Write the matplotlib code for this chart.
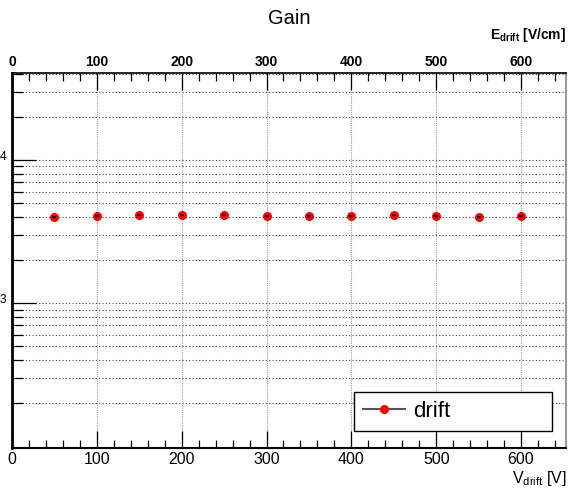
import matplotlib

matplotlib.use("Agg")
import matplotlib.pyplot as plt
from matplotlib.ticker import LogLocator, FixedLocator, MultipleLocator, NullFormatter
from matplotlib.transforms import ScaledTranslation

plt.rcParams["font.family"] = ["Liberation Sans", "DejaVu Sans"]
plt.rcParams["mathtext.fontset"] = "custom"
plt.rcParams["mathtext.rm"] = "Liberation Sans"
plt.rcParams["mathtext.bf"] = "Liberation Sans:bold"

# 데이터: 드리프트 전압 [V] vs 게인
v_drift = [50, 100, 150, 200, 250, 300, 350, 400, 450, 500, 550, 600]
gain = [3990, 4066, 4132, 4132, 4132, 4066, 4066, 4066, 4099, 4034, 3969, 4066]
x_range = (0, 653)
y_range = (97, 40500)
top_ticks = [0, 100, 200, 300, 400, 500, 600]
bottom_ticks = [0, 100, 200, 300, 400, 500, 600]
y_major = [1e3, 1e4]
y_major_labels = ["3", "4"]

fig = plt.figure(figsize=(5.68, 4.90), dpi=100)
ax = fig.add_axes([12 / 568, 42 / 490, 554 / 568, 375 / 490])

ax.set_yscale("log")
ax.set_xlim(*x_range)
ax.set_ylim(*y_range)

# 그리드 (ROOT 스타일 점선)
ax.xaxis.set_major_locator(FixedLocator(bottom_ticks))
ax.xaxis.set_minor_locator(MultipleLocator(20))
ax.yaxis.set_major_locator(FixedLocator(y_major))
ax.yaxis.set_minor_locator(LogLocator(base=10, subs=range(2, 10)))
ax.yaxis.set_minor_formatter(NullFormatter())
ax.set_yticklabels(y_major_labels)
ax.grid(True, axis="x", which="major", color="#999999", linestyle=(0, (1, 1)), linewidth=0.8)
ax.grid(True, axis="y", which="both", color="#444444", linestyle=(0, (1, 2)), linewidth=0.8)
ax.set_axisbelow(True)

# 데이터 점
ax.plot(v_drift, gain, linestyle="none", marker="o", markersize=5.5,
        markerfacecolor="#ff0000", markeredgecolor="#ff0000", zorder=3, label="drift")
ax.plot(v_drift, gain, linestyle="none", marker="_", markersize=3.5,
        markeredgewidth=1.6, color="black", zorder=4)

# 축 스타일
ax.tick_params(axis="x", which="major", direction="in", length=12, width=0.9,
               labelsize=11.5, pad=3, top=False)
ax.tick_params(axis="x", which="minor", direction="in", length=6, width=0.9, top=False)
ax.tick_params(axis="y", which="major", direction="in", length=17, width=0.9,
               labelsize=8.5, pad=4, right=False)
ax.tick_params(axis="y", which="minor", direction="in", length=8, width=0.9, right=False)
for lab in ax.get_yticklabels():
    lab.set_transform(lab.get_transform() + ScaledTranslation(0, 3 / 72, fig.dpi_scale_trans))

ax.spines["left"].set_linewidth(2)
ax.spines["bottom"].set_linewidth(1.5)
ax.spines["top"].set_linewidth(1.2)
ax.spines["right"].set_color("#999999")
ax.spines["right"].set_linewidth(1.5)

# 위쪽 축 (E_drift)
ax2 = ax.twiny()
ax2.set_xlim(*x_range)
ax2.xaxis.set_major_locator(FixedLocator(top_ticks))
ax2.xaxis.set_minor_locator(MultipleLocator(20))
ax2.tick_params(axis="x", which="major", direction="in", length=12, width=0.9,
                labelsize=10, pad=3)
ax2.tick_params(axis="x", which="minor", direction="in", length=6, width=0.9)
for lab in ax2.get_xticklabels():
    lab.set_fontweight("bold")
for s in ax2.spines.values():
    s.set_visible(False)

# 제목, 축 이름
fig.text(289 / 568, 1 - 18 / 490, "Gain", ha="center", va="center", fontsize=14.5)
fig.text(566 / 568, 1 - 39 / 490, r"E$_{\mathbf{drift}}$ [V/cm]", ha="right", va="baseline",
         fontsize=10, fontweight="bold")
fig.text(567 / 568, 1 - 483 / 490, r"V$_{\mathrm{drift}}$ [V]", ha="right", va="baseline",
         fontsize=11.5)

# 범례
leg = ax.legend(loc="lower left", bbox_to_anchor=(0.617, 0.045, 0.358, 0.104),
                mode="expand", fontsize=16, frameon=True, fancybox=False,
                borderpad=0.4, handlelength=1.9, handletextpad=0.35,
                borderaxespad=0, numpoints=1)
leg.get_frame().set_edgecolor("black")
leg.get_frame().set_linewidth(1.0)
leg.get_frame().set_alpha(1)
h = leg.legend_handles[0]
h.set_linestyle("-")
h.set_color("#555555")
h.set_markerfacecolor("#ff0000")
h.set_markeredgecolor("#ff0000")

fig.savefig("out.png", dpi=100, facecolor="white")
